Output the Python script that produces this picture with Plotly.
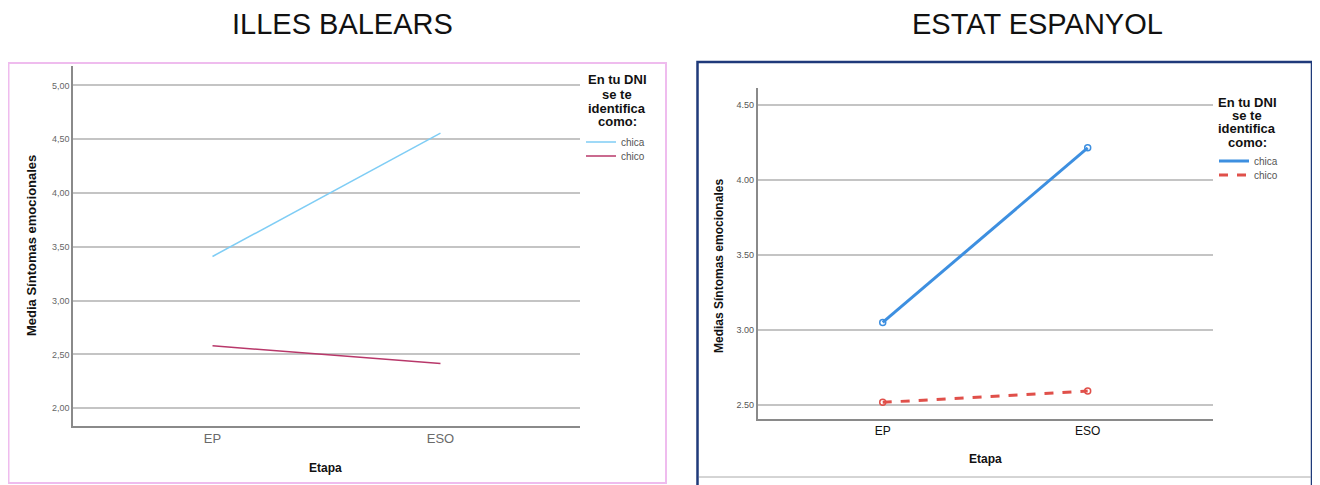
import plotly.graph_objects as go

# Browser adds an 8px body margin; the figure is sized/positioned to compensate.
OFF = 8
W, H = 1320 - OFF, 485 - OFF

categories = ["EP", "ESO"]

# Illes Balears
ib_chica = [3.41, 4.556]
ib_chico = [2.58, 2.415]
ib_ticks = [2.0, 2.5, 3.0, 3.5, 4.0, 4.5, 5.0]
ib_ticktext = ["2,00", "2,50", "3,00", "3,50", "4,00", "4,50", "5,00"]

# Estat Espanyol
es_chica = [3.049, 4.214]
es_chico = [2.516, 2.591]
es_ticks = [2.5, 3.0, 3.5, 4.0, 4.5]
es_ticktext = ["2.50", "3.00", "3.50", "4.00", "4.50"]

legend_title_lines = ["En tu DNI", "se te", "identifica", "como:"]

FONT = "Liberation Sans, Arial, sans-serif"


def px(xp):
    return (xp - OFF) / W


def py(yp):
    return 1 - (yp - OFF) / H


fig = go.Figure()

# Illes Balears lines
fig.add_trace(go.Scatter(x=categories, y=ib_chica, name="chica", mode="lines",
                         line=dict(color="#7fcdf5", width=1.5),
                         xaxis="x", yaxis="y", legend="legend"))
fig.add_trace(go.Scatter(x=categories, y=ib_chico, name="chico", mode="lines",
                         line=dict(color="#b8386a", width=1.5),
                         xaxis="x", yaxis="y", legend="legend3"))

# Estat Espanyol lines
fig.add_trace(go.Scatter(x=categories, y=es_chica, name="chica", mode="lines",
                         line=dict(color="#3d8fe0", width=3),
                         xaxis="x2", yaxis="y2", legend="legend2"))
fig.add_trace(go.Scatter(x=categories, y=es_chico, name="chico", mode="lines",
                         line=dict(color="#e0504a", width=3, dash="dash"),
                         xaxis="x2", yaxis="y2", legend="legend4"))
# Estat Espanyol point markers (open circles)
fig.add_trace(go.Scatter(x=categories, y=es_chica, mode="markers", showlegend=False,
                         marker=dict(symbol="circle-open", size=6, color="#3d8fe0", line=dict(width=1.5)),
                         xaxis="x2", yaxis="y2"))
fig.add_trace(go.Scatter(x=categories, y=es_chico, mode="markers", showlegend=False,
                         marker=dict(symbol="circle-open", size=6, color="#e0504a", line=dict(width=1.5)),
                         xaxis="x2", yaxis="y2"))

grid = "#c4c4c4"
axline = "#8a8a8a"

leg_common = dict(xanchor="left", yanchor="middle", font=dict(size=10, color="#555"),
                  itemwidth=30, bgcolor="rgba(0,0,0,0)", borderwidth=0)

fig.update_layout(
    width=W, height=H,
    margin=dict(l=0, r=0, t=0, b=0),
    paper_bgcolor="white", plot_bgcolor="white",
    font=dict(family=FONT, color="#000"),
    xaxis=dict(domain=[px(73), px(580)], type="category", range=[-0.612, 1.612],
               showline=True, linecolor=axline, linewidth=1.5, showgrid=False, ticks="",
               tickfont=dict(size=13, color="#6a6a6a"), anchor="y", fixedrange=True),
    yaxis=dict(domain=[py(426), py(66)], range=[1.835, 5.18],
               tickvals=ib_ticks, ticktext=ib_ticktext,
               showline=True, linecolor=axline, linewidth=1.5, showgrid=True,
               gridcolor=grid, gridwidth=1.5, zeroline=False, ticks="",
               tickfont=dict(size=9, color="#666"), anchor="x"),
    xaxis2=dict(domain=[px(757.7), px(1212.7)], type="category", range=[-0.61, 1.61],
                showline=True, linecolor=axline, linewidth=1.5, showgrid=False, ticks="",
                tickfont=dict(size=12, color="#111"), anchor="y2"),
    yaxis2=dict(domain=[py(419), py(88)], range=[2.405, 4.613],
                tickvals=es_ticks, ticktext=es_ticktext,
                showline=True, linecolor=axline, linewidth=1.5, showgrid=True,
                gridcolor=grid, gridwidth=1.5, zeroline=False, ticks="",
                tickfont=dict(size=9, color="#555"), anchor="x2"),
    legend=dict(x=px(581), y=py(142), **leg_common),
    legend3=dict(x=px(581), y=py(156), **leg_common),
    legend2=dict(x=px(1214), y=py(161), **leg_common),
    legend4=dict(x=px(1214), y=py(175), **leg_common),
    showlegend=True,
)

shapes = [
    dict(type="rect", xref="paper", yref="paper", x0=px(8.5), x1=px(666), y0=py(483), y1=py(63),
         line=dict(color="#efbcee", width=2)),
    dict(type="rect", xref="paper", yref="paper", x0=px(697.5), x1=px(1312), y0=py(495), y1=py(62),
         line=dict(color="#1f3a7a", width=2.5)),
    dict(type="line", xref="paper", yref="paper", x0=px(699), x1=px(1311), y0=py(477), y1=py(477),
         line=dict(color="#aaaaaa", width=1)),
]
fig.update_layout(shapes=shapes)

ann = [
    dict(text="ILLES BALEARS", x=px(342), y=py(24), font=dict(size=29, color="#111")),
    dict(text="ESTAT ESPANYOL", x=px(1037), y=py(24), font=dict(size=29, color="#111")),
    dict(text="<b>Media Síntomas emocionales</b>", x=px(31), y=py(246), textangle=-90,
         font=dict(size=13, color="#111")),
    dict(text="<b>Medias Síntomas emocionales</b>", x=px(719), y=py(266), textangle=-90,
         font=dict(size=12, color="#111")),
    dict(text="<b>Etapa</b>", x=px(325), y=py(468), font=dict(size=12, color="#111")),
    dict(text="<b>Etapa</b>", x=px(985), y=py(459), font=dict(size=12, color="#111")),
]
left_title_y = [80, 94, 108, 121]
right_title_y = [102, 116, 129, 142]
for line, yy in zip(legend_title_lines, left_title_y):
    ann.append(dict(text="<b>%s</b>" % line, x=px(617), y=py(yy), font=dict(size=13, color="#111")))
for line, yy in zip(legend_title_lines, right_title_y):
    ann.append(dict(text="<b>%s</b>" % line, x=px(1247), y=py(yy), font=dict(size=13, color="#111")))

fig.update_layout(annotations=[dict(xref="paper", yref="paper", showarrow=False,
                                    xanchor="center", yanchor="middle", **a) for a in ann])

fig.write_html("out.html")
